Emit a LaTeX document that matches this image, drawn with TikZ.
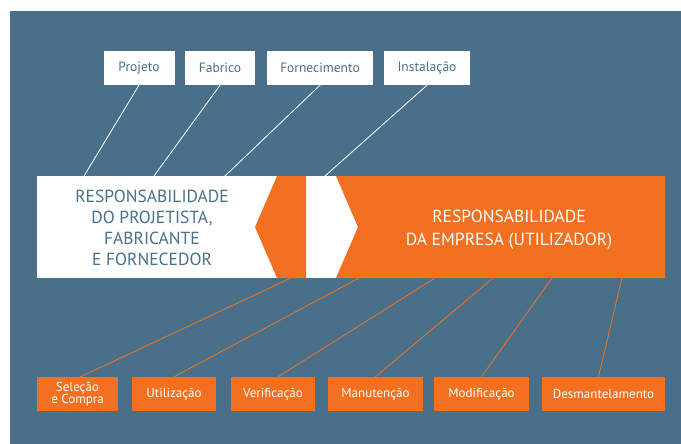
\documentclass[tikz,border=0pt]{standalone}
\usepackage{fontspec}
\setmainfont{PT Sans}
\definecolor{azul}{HTML}{4A7089}
\definecolor{laranja}{HTML}{F37021}
\begin{document}
\begin{tikzpicture}[x=1pt, y=-1pt, line join=round, line cap=round,
 caixa/.style={fill=white, text=azul, minimum height=34pt, inner sep=0pt, font=\fontsize{13.5}{14}\selectfont},
 fase/.style={fill=laranja, text=white, minimum height=34pt, inner sep=0pt, align=center, font=\fontsize{13}{12}\selectfont},
 ligA/.style={draw=white, line width=0.8pt},
 ligB/.style={draw=laranja, line width=0.8pt}]
 \def\ytop{176} \def\ybot{278}
 \useasboundingbox (0,0) rectangle (681,444);
 \fill[azul] (10,11) rectangle (681,444);
 % faixa central
 \fill[white] (37,\ytop) rectangle (360,\ybot);
 \fill[laranja] (277,\ytop)--(306,\ytop)--(306,\ybot)--(277,\ybot)--(255,227)--cycle;
 \fill[laranja] (336,\ytop)--(665,\ytop)--(665,\ybot)--(336,\ybot)--(358,227)--cycle;
 \node[text=azul, align=center, font=\fontsize{17.5}{21}\selectfont] (proj) at (152,228)
  {RESPONSABILIDADE\\DO PROJETISTA,\\FABRICANTE\\E FORNECEDOR};
 \node[text=white, align=center, font=\fontsize{17.5}{23}\selectfont] (emp) at (509,230)
  {RESPONSABILIDADE\\DA EMPRESA (UTILIZADOR)};
 % caixas de cima
 \node[caixa, minimum width=71pt] (projeto) at (139,68) {Projeto};
 \node[caixa, minimum width=70pt] (fabrico) at (220,68) {Fabrico};
 \node[caixa, minimum width=106pt] (fornec) at (320,68) {Fornecimento};
 \node[caixa, minimum width=86pt] (instal) at (427,68) {Instalação};
 % caixas de baixo
 \node[fase, minimum width=81pt] (selecao) at (77.5,394) {Seleção\\e Compra};
 \node[fase, minimum width=84pt] (utiliz) at (174,394) {Utilização};
 \node[fase, minimum width=84pt] (verif) at (273,394) {Verificação};
 \node[fase, minimum width=95pt] (manut) at (375.5,394) {Manutenção};
 \node[fase, minimum width=95pt] (modif) at (481.5,394) {Modificação};
 \node[fase, minimum width=123pt] (desm) at (603.5,394) {Desmantelamento};
 % pontos na faixa
 \coordinate (t1) at (84,\ytop);
 \coordinate (t2) at (154,\ytop);
 \coordinate (t3) at (225,\ytop);
 \coordinate (t4) at (325,\ytop);
 \coordinate (b1) at (291,\ybot);
 \coordinate (b2) at (359,\ybot);
 \coordinate (b3) at (435,\ybot);
 \coordinate (b4) at (493,\ybot);
 \coordinate (b5) at (552,\ybot);
 \coordinate (b6) at (622,\ybot);
 \draw[ligA] (projeto.south)--(t1);
 \draw[ligA] (fabrico.south)--(t2);
 \draw[ligA] (fornec.south)--(t3);
 \draw[ligA] (instal.south)--(t4);
 \draw[ligB] (b1)--([xshift=3pt]selecao.north);
 \draw[ligB] (b2)--(utiliz.north);
 \draw[ligB] (b3)--([xshift=5pt]verif.north);
 \draw[ligB] (b4)--(manut.north);
 \draw[ligB] (b5)--(modif.north);
 \draw[ligB] (b6)--([xshift=-5pt]desm.north);
\end{tikzpicture}
\end{document}
